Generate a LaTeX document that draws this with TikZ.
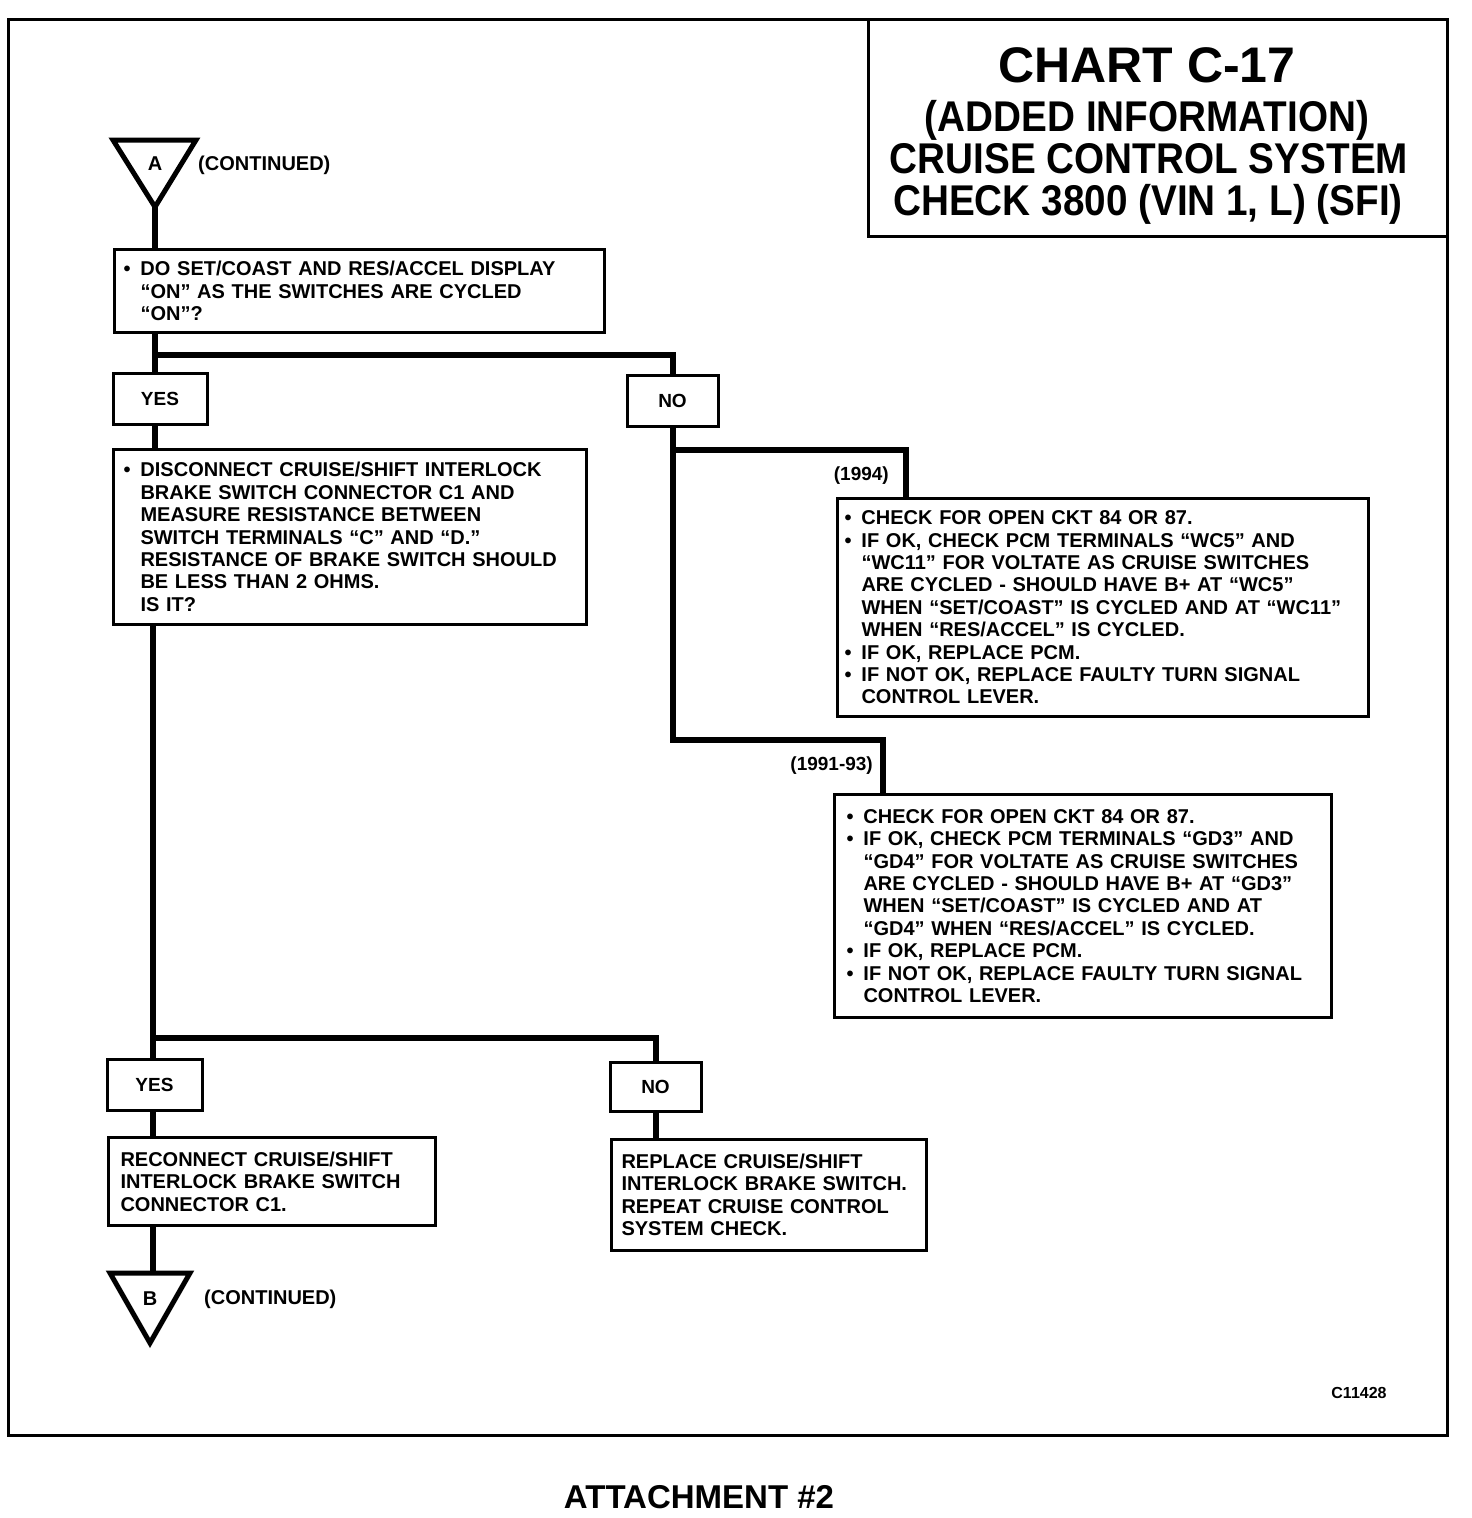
\documentclass[tikz,border=0pt]{standalone}
\usepackage{fontspec}
\setmainfont{Liberation Sans}
\newfontfamily\condfont[FakeStretch=0.9]{Liberation Sans}
\setlength\parindent{0pt}
\newcommand\bodyfont{\fontsize{20}{22.4}\selectfont\bfseries}
\newcommand\bl{\makebox[17pt][l]{\textbullet}}
\newcommand\ind{\hspace*{17pt}}
\begin{document}
\begin{tikzpicture}[x=1pt,y=-1pt,
  conn/.style={line width=6pt, line join=miter},
  box/.style={draw, line width=3pt, fill=white, anchor=north west, align=left, inner ysep=0pt, font=\bodyfont},
  yn/.style={draw, line width=3pt, fill=white, inner sep=0pt, font=\fontsize{19}{22}\selectfont\bfseries},
  tri/.style={line width=5pt, line join=miter},
  lbl/.style={inner sep=0pt, font=\fontsize{19}{22}\selectfont\bfseries},
  cont/.style={inner sep=0pt, font=\fontsize{20}{22}\selectfont\bfseries},
  ttl/.style={inner sep=0pt, anchor=base, font=\fontsize{43}{46}\selectfont\condfont\bfseries},
]
\useasboundingbox (0,0) rectangle (1472,1518);
% frame and title box
\draw[line width=3pt] (8,19) rectangle (1447,1435);
\draw[line width=3pt] (868,19) -- (868,236) -- (1447,236);
\node[inner sep=0pt, anchor=base, font=\fontsize{50}{54}\selectfont\bfseries] (t1) at (1147,82) {CHART C-17};
\node[ttl] (t2) at (1147,131) {(ADDED INFORMATION)};
\node[ttl] (t3) at (1149,173) {CRUISE CONTROL SYSTEM};
\node[ttl] (t4) at (1148,215) {CHECK 3800 (VIN 1, L) (SFI)};

% triangle A
\draw[tri] (113,140) -- (196,140) -- (155,207) -- cycle;
\node[inner sep=0pt, font=\fontsize{20}{22}\selectfont\bfseries] (A) at (155,164) {A};
\node[cont, anchor=west] (contA) at (198,165) {(CONTINUED)};
\coordinate (Aap) at (155,207);

% boxes
\node[box, inner xsep=9pt, text width=472pt, minimum height=83pt] (q1) at (113,248)
 {\bl DO SET/COAST AND RES/ACCEL DISPLAY\\
  \ind “ON” AS THE SWITCHES ARE CYCLED\\
  \ind “ON”?};
\node[yn, minimum width=94pt, minimum height=51pt] (yes1) at (160,398.5) {YES};
\node[yn, minimum width=91pt, minimum height=51pt] (no1) at (672.5,400.5) {NO};
\node[box, inner xsep=10pt, text width=453pt, minimum height=175pt] (q2) at (112,448)
 {\bl DISCONNECT CRUISE/SHIFT INTERLOCK\\
  \ind BRAKE SWITCH CONNECTOR C1 AND\\
  \ind MEASURE RESISTANCE BETWEEN\\
  \ind SWITCH TERMINALS “C” AND “D.”\\
  \ind RESISTANCE OF BRAKE SWITCH SHOULD\\
  \ind BE LESS THAN 2 OHMS.\\
  \ind IS IT?};
\node[box, inner xsep=7pt, text width=517pt, minimum height=218pt] (q3) at (836,497)
 {\bl CHECK FOR OPEN CKT 84 OR 87.\\
  \bl IF OK, CHECK PCM TERMINALS “WC5” AND\\
  \ind “WC11” FOR VOLTATE AS CRUISE SWITCHES\\
  \ind ARE CYCLED - SHOULD HAVE B+ AT “WC5”\\
  \ind WHEN “SET/COAST” IS CYCLED AND AT “WC11”\\
  \ind WHEN “RES/ACCEL” IS CYCLED.\\
  \bl IF OK, REPLACE PCM.\\
  \bl IF NOT OK, REPLACE FAULTY TURN SIGNAL\\
  \ind CONTROL LEVER.};
\node[box, inner xsep=12pt, text width=473pt, minimum height=223pt] (q4) at (833,793)
 {\bl CHECK FOR OPEN CKT 84 OR 87.\\
  \bl IF OK, CHECK PCM TERMINALS “GD3” AND\\
  \ind “GD4” FOR VOLTATE AS CRUISE SWITCHES\\
  \ind ARE CYCLED - SHOULD HAVE B+ AT “GD3”\\
  \ind WHEN “SET/COAST” IS CYCLED AND AT\\
  \ind “GD4” WHEN “RES/ACCEL” IS CYCLED.\\
  \bl IF OK, REPLACE PCM.\\
  \bl IF NOT OK, REPLACE FAULTY TURN SIGNAL\\
  \ind CONTROL LEVER.};
\node[lbl, anchor=east] (y94) at (889,476) {(1994)};
\node[lbl, anchor=east] (y91) at (873,766) {(1991-93)};

\node[yn, minimum width=95pt, minimum height=51pt] (yes2) at (154.5,1084.5) {YES};
\node[yn, minimum width=91pt, minimum height=49pt] (no2) at (655.5,1086.5) {NO};
\node[box, inner xsep=12pt, text width=303pt, minimum height=88pt] (q5) at (107,1136)
 {RECONNECT CRUISE/SHIFT\\
  INTERLOCK BRAKE SWITCH\\
  CONNECTOR C1.};
\node[box, inner xsep=10pt, text width=295pt, minimum height=111pt] (q6) at (610,1138)
 {REPLACE CRUISE/SHIFT\\
  INTERLOCK BRAKE SWITCH.\\
  REPEAT CRUISE CONTROL\\
  SYSTEM CHECK.};

% triangle B
\draw[tri] (110,1273) -- (190,1273) -- (150,1343) -- cycle;
\node[inner sep=0pt, font=\fontsize{20}{22}\selectfont\bfseries] (B) at (150,1299) {B};
\node[cont, anchor=west] (contB) at (204,1299) {(CONTINUED)};
\coordinate (Btop) at (153,1273);

% connectors
\coordinate (s1) at (155,355);
\coordinate (s2) at (153,1038);
\coordinate (s3) at (672,450);
\coordinate (c3) at (906,450);
\coordinate (c4) at (883,740);
\draw[conn] (Aap) -- (q1.north -| Aap);
\draw[conn] (q1.south -| Aap) -- (yes1.north -| Aap);
\draw[conn] (s1) -| (no1.north);
\draw[conn] (yes1.south -| Aap) -- (q2.north -| Aap);
\draw[conn] (q2.south -| s2) -- (yes2.north -| s2);
\draw[conn] (s2) -| (no2.north);
\draw[conn] (yes2.south -| s2) -- (q5.north -| s2);
\draw[conn] (q5.south -| s2) -- (Btop);
\draw[conn] (no2.south) -- (q6.north -| no2.south);
\draw[conn] (no1.south) |- (c4) -- (q4.north -| c4);
\draw[conn] (s3) -- (c3) -- (q3.north -| c3);

\node[inner sep=0pt, font=\fontsize{16}{18}\selectfont\bfseries] (code) at (1359,1393) {C11428};
\node[inner sep=0pt, font=\fontsize{33}{36}\selectfont\bfseries] (att) at (699,1497) {ATTACHMENT \#2};
\end{tikzpicture}
\end{document}
